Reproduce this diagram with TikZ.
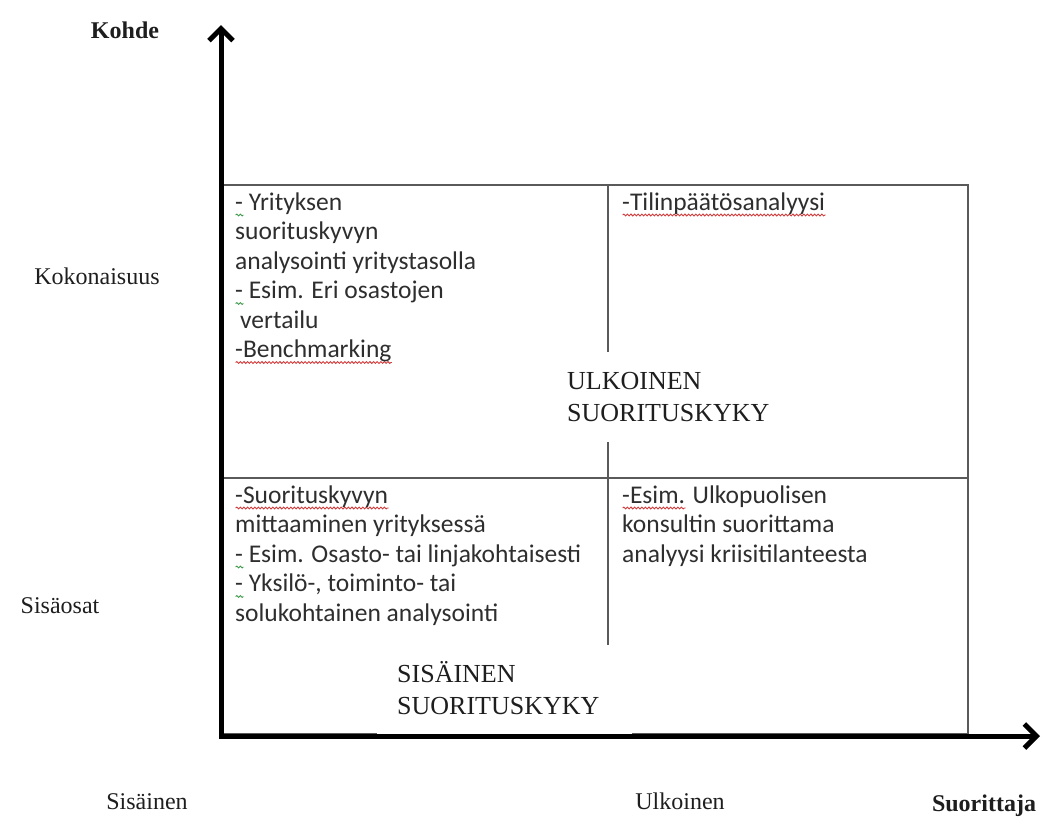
\documentclass[tikz,border=0pt]{standalone}
\usepackage{fontspec}
\setmainfont{Liberation Serif}
\newfontfamily\calfont{Carlito}
\usetikzlibrary{arrows.meta,decorations.pathmorphing}

\definecolor{framegray}{HTML}{5A5A5A}
\definecolor{ink}{HTML}{2E2E2E}
\definecolor{labelink}{HTML}{1E1E1E}
\definecolor{squigred}{HTML}{D03A3A}
\definecolor{squiggreen}{HTML}{3E9A4A}

% wavy proof-reading underline below a piece of text
\newlength\spellwd
\newcommand\spellmark[2]{\settowidth\spellwd{#2}\rlap{\tikz[baseline=0pt]\draw[#1,line width=0.9pt,decorate,decoration={snake,amplitude=0.9pt,segment length=3.6pt}] (0pt,-5pt) -- (\spellwd,-5pt);}#2}

\begin{document}
\begin{tikzpicture}[x=1pt,y=-1pt,
  axis/.style={line width=5pt,line join=miter,
    {Straight Barb[length=12pt,width=24pt]}-{Straight Barb[length=12pt,width=24pt]}},
  gridline/.style={draw=framegray,line width=1.8pt},
  % multi-line nodes: the base anchor sits on the last line
  cell/.style={font=\calfont\fontsize{25.5}{29.5}\selectfont,text=ink,align=left,anchor=base west,inner sep=0pt},
  axislabel/.style={font=\fontsize{24}{30}\selectfont,text=labelink,inner sep=0pt,anchor=base},
  boldlabel/.style={axislabel,font=\fontsize{24}{30}\selectfont\bfseries},
  areatag/.style={font=\fontsize{26}{32}\selectfont,text=labelink,inner sep=0pt,align=left,anchor=base west},
  cover/.style={fill=white}]
\useasboundingbox (0,0) rectangle (1043,831);

% corner points of the matrix and the axes
\coordinate (O) at (221,736);
\coordinate (ytip) at (221,25);
\coordinate (xtip) at (1040,736);
\coordinate (boxNW) at (221,185);
\coordinate (boxSE) at (968,734);
\coordinate (midW) at (221,478);
\coordinate (midE) at (968,478);
\coordinate (midN) at (608,185);
\coordinate (midS) at (608,734);

% 2x2 matrix
\draw[gridline] (boxNW) rectangle (boxSE);
\draw[gridline] (midW) -- (midE);
\draw[gridline] (midN) -- (midS);

% axes
\draw[axis] (ytip) -- (O) -- (xtip);

% white panels behind the area names
\fill[cover] (560,352) rectangle (790,442);
\fill[cover] (377,645) rectangle (632,734);

% quadrant contents
\node[cell] (q11) at (235,357.5) {\spellmark{squiggreen}{-} Yrityksen\\suorituskyvyn\\analysointi yritystasolla\\\spellmark{squiggreen}{-} Esim. Eri osastojen\\\kern5pt vertailu\\\spellmark{squigred}{-Benchmarking}};
\node[cell] (q12) at (622,210) {\spellmark{squigred}{-Tilinpäätösanalyysi}};
\node[cell] (q21) at (235,621) {\spellmark{squigred}{-Suorituskyvyn}\\mittaaminen yrityksessä\\\spellmark{squiggreen}{-} Esim. Osasto- tai linjakohtaisesti\\\spellmark{squiggreen}{-} Yksilö-, toiminto- tai\\solukohtainen analysointi};
\node[cell] (q22) at (622,562) {\spellmark{squigred}{-Esim.} Ulkopuolisen\\konsultin suorittama\\analyysi kriisitilanteesta};

% area names
\node[areatag] (ext) at (567,421) {ULKOINEN\\SUORITUSKYKY};
\node[areatag] (int) at (397,714) {SISÄINEN\\SUORITUSKYKY};

% axis labels
\node[boldlabel] (kohde) at (125,38) {Kohde};
\node[axislabel] (koko) at (97,284) {Kokonaisuus};
\node[axislabel] (sisa) at (60,613) {Sisäosat};
\node[axislabel] (sisainen) at (147,809) {Sisäinen};
\node[axislabel] (ulkoinen) at (680,809) {Ulkoinen};
\node[boldlabel] (suor) at (984,811) {Suorittaja};
\end{tikzpicture}
\end{document}
